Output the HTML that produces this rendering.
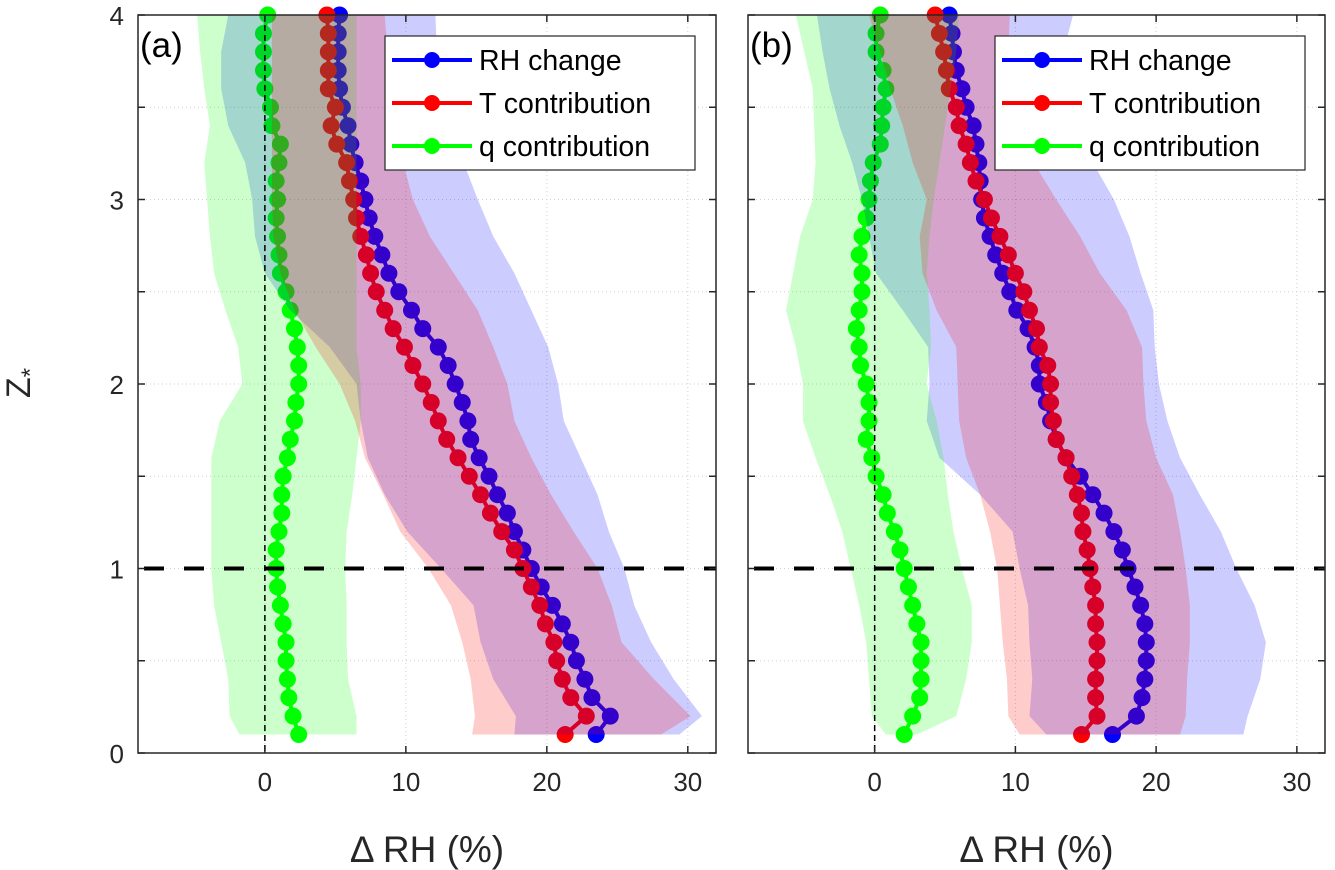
<!DOCTYPE html>
<html><head><meta charset="utf-8"><style>
html,body{margin:0;padding:0;background:#fff;}
svg{display:block;font-family:"Liberation Sans",sans-serif;}
</style></head><body>
<svg id="chart" width="1335" height="870" viewBox="0 0 1335 870"></svg>
<script>
// ---- data ----
const zLevels = [0.1,0.2,0.3,0.4,0.5,0.6,0.7,0.8,0.9,1.0,1.1,1.2,1.3,1.4,1.5,1.6,1.7,1.8,1.9,2.0,2.1,2.2,2.3,2.4,2.5,2.6,2.7,2.8,2.9,3.0,3.1,3.2,3.3,3.4,3.5,3.6,3.7,3.8,3.9,4.0];
const rhA = [23.5,24.5,23.2,22.7,22.1,21.7,21.1,20.4,19.6,18.9,18.3,17.7,17.2,16.5,15.9,15.2,14.6,14.4,14.0,13.5,13.0,12.3,11.2,10.4,9.5,8.8,8.3,7.8,7.4,7.1,6.8,6.4,6.1,5.9,5.5,5.3,5.2,5.2,5.2,5.3];
const tA = [21.3,22.8,21.7,21.1,20.7,20.5,19.9,19.5,18.9,18.3,17.7,16.8,16.0,15.3,14.5,13.7,12.9,12.3,11.8,11.2,10.5,9.9,9.1,8.5,7.9,7.5,7.2,6.8,6.5,6.3,6.0,5.8,5.1,4.7,5.0,4.5,4.5,4.5,4.5,4.4];
const qA = [2.4,2.0,1.7,1.6,1.5,1.5,1.3,1.1,0.9,0.8,0.8,1.0,1.2,1.2,1.3,1.6,1.8,2.1,2.2,2.4,2.4,2.3,2.1,1.8,1.5,1.1,1.0,0.9,0.8,0.9,0.8,1.0,1.1,0.5,0.4,0.0,-0.1,-0.1,-0.1,0.2];
const rhB = [16.9,18.6,19.0,19.2,19.3,19.3,19.2,18.9,18.5,18.0,17.6,17.0,16.3,15.5,14.6,13.6,12.9,12.5,12.2,11.7,11.7,11.4,10.9,10.1,9.6,9.1,8.6,8.2,7.8,7.6,7.5,7.4,7.2,7.0,6.5,6.2,5.8,5.6,5.5,5.3];
const tB = [14.7,15.8,15.7,15.7,15.8,15.8,15.7,15.7,15.5,15.3,15.1,14.8,14.7,14.4,14.0,13.6,12.9,12.7,12.5,12.5,12.3,11.7,11.5,11.0,10.6,10.0,9.5,8.9,8.3,7.8,7.2,6.8,6.5,6.0,5.8,5.3,5.1,4.9,4.6,4.3];
const qB = [2.1,2.7,3.2,3.3,3.3,3.3,3.0,2.7,2.4,2.1,1.8,1.4,0.9,0.6,0.1,-0.2,-0.6,-0.4,-0.4,-0.6,-1.0,-1.1,-1.3,-1.1,-0.9,-0.9,-1.1,-0.9,-0.6,-0.4,-0.3,-0.1,0.4,0.5,0.6,0.8,0.6,0.1,0.1,0.4];
// spread bands
const bandZ = [0.1,0.2,0.4,0.6,0.8,1.0,1.2,1.4,1.6,1.8,2.0,2.2,2.4,2.6,2.8,3.0,3.2,3.4,3.6,3.8,4.0];
const qLoA = [-1.8,-2.5,-2.6,-3.1,-3.6,-3.8,-3.8,-3.8,-3.8,-3.2,-1.6,-1.9,-2.8,-3.6,-3.9,-4.1,-4.3,-3.9,-4.3,-4.6,-4.8];
const qHiA = [6.5,6.5,5.9,5.8,5.8,5.7,5.8,6.2,6.5,6.8,6.8,6.5,6.5,6.5,6.5,6.5,6.5,6.5,6.5,6.5,6.5];
const tLoA = [14.7,14.9,14.6,14.0,13.2,11.6,9.6,8.4,7.1,6.4,5.3,3.6,2.1,1.1,0.6,0.5,0.5,0.5,0.5,0.5,0.5];
const tHiA = [28.1,30.2,27.6,25.3,24.6,23.6,21.9,20.3,18.9,17.7,17.2,16.2,15.1,13.4,11.7,10.5,9.8,9.4,8.9,8.7,8.5];
const rhLoA = [17.7,17.8,16.2,15.3,14.8,12.5,10.1,8.5,7.3,6.8,6.5,4.6,1.8,0.0,-0.7,-0.9,-1.4,-2.6,-3.1,-3.1,-2.6];
const rhHiA = [29.4,31.0,29.0,27.4,26.2,25.5,24.4,23.6,22.4,21.2,20.8,20.1,18.9,17.7,16.2,15.1,14.1,13.4,12.5,12.2,12.1];
const qLoB = [0.8,-0.2,-0.4,-0.6,-1.1,-1.7,-2.3,-3.2,-4.2,-5.1,-5.1,-5.6,-6.3,-5.8,-5.3,-4.4,-4.2,-4.3,-4.4,-5.0,-5.6];
const qHiB = [3.0,5.8,6.5,6.9,6.9,6.2,5.6,5.2,4.9,4.4,3.7,4.0,3.9,3.7,3.9,4.2,4.6,5.0,5.4,5.8,6.0];
const tLoB = [10.3,9.5,9.4,9.1,8.9,8.7,8.2,7.5,6.5,6.0,5.9,5.8,4.4,3.4,3.2,3.7,2.7,2.0,1.1,0.4,-0.4];
const tHiB = [21.7,22.1,22.2,22.4,22.4,22.1,21.7,21.2,20.0,19.3,19.1,19.0,17.9,16.0,14.6,12.9,11.3,10.3,9.6,9.5,9.6];
const rhLoB = [12.2,11.0,11.2,11.0,10.9,10.3,9.8,7.5,4.6,3.7,3.9,3.8,2.0,0.1,-0.4,-0.9,-1.6,-2.5,-3.2,-3.7,-4.1];
const rhHiB = [26.2,26.5,27.4,27.8,27.0,25.7,24.6,23.1,21.7,20.8,20.2,19.9,19.8,18.9,18.1,17.0,15.5,13.6,12.9,13.4,14.1];
const xTicks = [0,10,20,30];
const yTicks = [0,1,2,3,4];
const seriesNames = ["RH change","T contribution","q contribution"];

const NS="http://www.w3.org/2000/svg";
const svg=document.getElementById('chart');
function mk(tag,attrs,parent){const e=document.createElementNS(NS,tag);for(const k in attrs)e.setAttribute(k,attrs[k]);(parent||svg).appendChild(e);return e;}

const yTop=15,yBot=753,zMin=0,zMax=4,xMin=-9,xMax=32;
function yS(z){return yBot-(z-zMin)/(zMax-zMin)*(yBot-yTop);}

const panels=[
 {id:'a',x0:138,x1:716,rh:rhA,t:tA,q:qA,bands:[[rhLoA,rhHiA,'#0000ff','rh'],[qLoA,qHiA,'#00ff00','q'],[tLoA,tHiA,'#ff0000','t']],legX:385},
 {id:'b',x0:748,x1:1325,rh:rhB,t:tB,q:qB,bands:[[rhLoB,rhHiB,'#0000ff','rh'],[qLoB,qHiB,'#00ff00','q'],[tLoB,tHiB,'#ff0000','t']],legX:995}
];

panels.forEach(p=>{
 const xS=v=>p.x0+(v-xMin)/(xMax-xMin)*(p.x1-p.x0);
 const g=mk('g',{});
 
 
 xTicks.forEach(v=>{const l=mk('line',{x1:xS(v),x2:xS(v),y1:yTop,y2:yBot,stroke:'#d0d0d0','stroke-width':1,'stroke-dasharray':'1 3'},g);
  });
 for(let z=0.5;z<4;z+=0.5){const l=mk('line',{x1:p.x0,x2:p.x1,y1:yS(z),y2:yS(z),stroke:'#d0d0d0','stroke-width':1,'stroke-dasharray':'1 3'},g);
  }
 const series=[[p.rh,'#0000ff','rh-change'],[p.t,'#ff0000','t-contribution'],[p.q,'#00ff00','q-contribution']];
 series.forEach(s=>{
  const sg=mk('g',{},g);
  
  
  const pts=s[0].map((v,i)=>xS(v)+','+yS(zLevels[i])).join(' ');
  mk('polyline',{points:pts,fill:'none',stroke:s[1],'stroke-width':4},sg);
  s[0].forEach((v,i)=>{const c=mk('circle',{cx:xS(v),cy:yS(zLevels[i]),r:8.5,fill:s[1]},sg);
   });
 });
 p.bands.forEach(b=>{
  let pts=b[0].map((v,i)=>xS(v)+','+yS(bandZ[i]));
  pts=pts.concat(b[1].map((v,i)=>xS(v)+','+yS(bandZ[i])).reverse());
  const poly=mk('polygon',{points:pts.join(' '),fill:b[2],'fill-opacity':0.2},g);
  
  
 });
 const v0=mk('line',{x1:xS(0),x2:xS(0),y1:yTop,y2:yBot,stroke:'#000','stroke-width':1.5,'stroke-dasharray':'6 4'},g);
 
 const h1=mk('line',{x1:p.x0+6,x2:p.x1,y1:yS(1),y2:yS(1),stroke:'#000','stroke-width':4,'stroke-dasharray':'20 20'},g);
 
 const fr=mk('rect',{x:p.x0,y:yTop,width:p.x1-p.x0,height:yBot-yTop,fill:'none',stroke:'#262626','stroke-width':1.5},g);
 
 xTicks.forEach(v=>{const x=xS(v);
  mk('line',{x1:x,x2:x,y1:yBot,y2:yBot-7,stroke:'#262626','stroke-width':1.5},g);
  mk('line',{x1:x,x2:x,y1:yTop,y2:yTop+7,stroke:'#262626','stroke-width':1.5},g);
  const t=mk('text',{x:x,y:yBot+38,'text-anchor':'middle','font-size':26,fill:'#262626'},g);t.textContent=v;
  });
 for(let z=0;z<=4;z+=0.5){const y=yS(z);
  mk('line',{x1:p.x0,x2:p.x0+7,y1:y,y2:y,stroke:'#262626','stroke-width':1.5},g);
  mk('line',{x1:p.x1,x2:p.x1-7,y1:y,y2:y,stroke:'#262626','stroke-width':1.5},g);}
 if(p.id==='a'){yTicks.forEach(z=>{const t=mk('text',{x:p.x0-14,y:yS(z)+10,'text-anchor':'end','font-size':26,fill:'#262626'},g);t.textContent=z;
  });}
 const xt=mk('text',{x:(p.x0+p.x1)/2,y:862,'text-anchor':'middle','font-size':37,fill:'#262626'},g);xt.textContent='Δ RH (%)';
 
 const lab=mk('text',{x:p.x0+2,y:57,'font-size':35,fill:'#000'},g);lab.textContent='('+p.id+')';
 
 const lg=mk('g',{},g);
 
 mk('rect',{x:p.legX,y:36,width:310,height:134,fill:'#fff',stroke:'#262626','stroke-width':1.2},lg);
 const cols=['#0000ff','#ff0000','#00ff00'];
 seriesNames.forEach((n,i)=>{const y=60+i*43;
  const e=mk('g',{},lg);
  
  mk('line',{x1:p.legX+7,x2:p.legX+87,y1:y,y2:y,stroke:cols[i],'stroke-width':4},e);
  mk('circle',{cx:p.legX+47,cy:y,r:8,fill:cols[i]},e);
  const t=mk('text',{x:p.legX+94,y:y+10,'font-size':28.5,fill:'#000'},e);t.textContent=n;});
});
const yt=mk('text',{x:0,y:0,'font-size':34,fill:'#262626','text-anchor':'middle',transform:'translate(30,383) rotate(-90)'});
yt.innerHTML='Z<tspan font-size="24" dy="8">*</tspan>';

</script>
</body></html>
